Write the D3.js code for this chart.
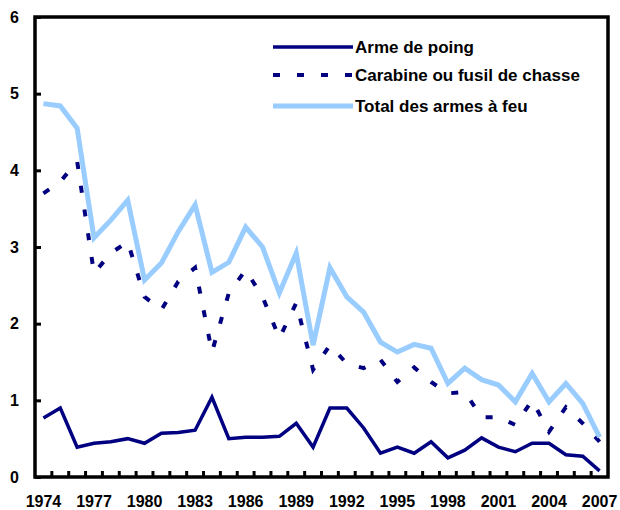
<!DOCTYPE html>
<html>
<head>
<meta charset="utf-8">
<script src="https://cdn.jsdelivr.net/npm/d3@7"></script>
<style>
  html, body { margin: 0; padding: 0; background: #fff; }
  svg { display: block; }
  text { font-family: "Liberation Sans", Arial, sans-serif; }
</style>
</head>
<body>
<svg id="chart" width="620" height="510"></svg>
<script>
const years = d3.range(1974, 2008).map(String);
const tickYears = ["1974","1977","1980","1983","1986","1989","1992","1995","1998","2001","2004","2007"];
const yTicks = [0, 1, 2, 3, 4, 5, 6];
const seriesNames = ["Arme de poing", "Carabine ou fusil de chasse", "Total des armes à feu"];

const handgun = [0.77,0.90,0.39,0.44,0.46,0.50,0.44,0.57,0.58,0.61,1.04,0.50,0.52,0.52,0.53,0.70,0.39,0.90,0.90,0.64,0.31,0.39,0.31,0.46,0.25,0.35,0.51,0.39,0.33,0.44,0.44,0.29,0.27,0.08];
const rifle = [3.70,3.85,4.12,2.66,2.92,3.07,2.35,2.18,2.55,2.73,1.63,2.40,2.70,2.35,1.81,2.27,1.40,1.72,1.48,1.42,1.53,1.24,1.43,1.24,1.09,1.11,0.78,0.78,0.68,1.00,0.59,0.91,0.70,0.46];
const total = [4.87,4.84,4.55,3.12,3.35,3.61,2.57,2.79,3.20,3.55,2.67,2.80,3.26,3.00,2.40,2.92,1.72,2.73,2.35,2.15,1.76,1.63,1.73,1.68,1.22,1.42,1.27,1.20,0.98,1.35,0.98,1.22,0.96,0.52];

const colors = ["#000080", "#000080", "#99CCFF"];
const widths = [3.5, 4, 5];
const dashes = [null, "7,17", null];
const allSeries = [handgun, rifle, total];

const svg = d3.select("#chart");
const L = 35, R = 608, T = 17, B = 477;

const x = d3.scaleBand().domain(years).range([L, R]).paddingInner(0).paddingOuter(0);
const y = d3.scaleLinear().domain([0, 6]).range([B, T]);
const cx = d => x(d) + x.bandwidth() / 2;

// Y axis
const yAxis = d3.axisLeft(y).tickValues(yTicks).tickSize(-6).tickPadding(16).tickFormat(d3.format("d"));
const gy = svg.append("g").attr("transform", `translate(${L},0)`).call(yAxis);
gy.select(".domain").remove();
gy.selectAll(".tick line").attr("stroke", "#000").attr("stroke-width", 3);
gy.selectAll(".tick text").attr("font-size", 16).attr("font-weight", "bold").attr("fill", "#000").attr("text-anchor", "end");

// X axis: ticks at category boundaries, labels at every third category
const boundaries = years.slice(1);
const gx = svg.append("g").attr("transform", `translate(0,${B})`);
gx.selectAll("line.xt").data(boundaries).join("line")
  .attr("class", "xt")
  .attr("x1", d => x(d)).attr("x2", d => x(d))
  .attr("y1", 0).attr("y2", -6)
  .attr("stroke", "#000").attr("stroke-width", 3);
gx.selectAll("text.xl").data(tickYears).join("text")
  .attr("class", "xl")
  .attr("x", d => cx(d)).attr("y", 30)
  .attr("text-anchor", "middle")
  .attr("font-size", 16).attr("font-weight", "bold").attr("fill", "#000")
  .text(d => d);

// Lines
const line = d3.line().x((d, i) => cx(years[i])).y(d => y(d));
allSeries.forEach((s, k) => {
  svg.append("path")
    .datum(s)
    .attr("d", line)
    .attr("fill", "none")
    .attr("stroke", colors[k])
    .attr("stroke-width", widths[k])
    .attr("stroke-dasharray", dashes[k])
    .attr("stroke-linejoin", "miter");
});

// Frame
svg.append("rect").attr("x", L).attr("y", T).attr("width", R - L).attr("height", B - T)
  .attr("fill", "none").attr("stroke", "#000").attr("stroke-width", 3.5);

// Legend
const legY = [47, 75, 106];
const lg = svg.append("g");
seriesNames.forEach((name, k) => {
  lg.append("line")
    .attr("x1", 273).attr("x2", 353).attr("y1", legY[k]).attr("y2", legY[k])
    .attr("stroke", colors[k]).attr("stroke-width", widths[k])
    .attr("stroke-dasharray", k === 1 ? "7,17" : null);
  lg.append("text")
    .attr("x", 355).attr("y", legY[k]).attr("dy", "0.35em")
    .attr("font-size", 17).attr("font-weight", "bold").attr("fill", "#000")
    .text(name);
});
</script>
</body>
</html>
